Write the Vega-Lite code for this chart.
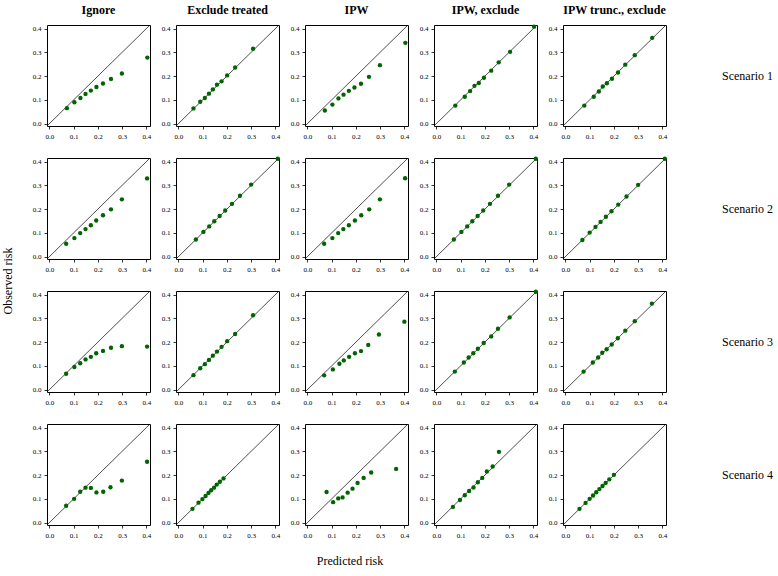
{
"$schema": "https://vega.github.io/schema/vega-lite/v6.json",
"padding": {"left": 2, "top": 4, "right": 2, "bottom": 2},
"background": "white",
"datasets": {"pts": [
{"method":"Ignore","scenario":"Scenario 1","pred":0.072,"obs":0.065},
{"method":"Ignore","scenario":"Scenario 1","pred":0.103,"obs":0.090},
{"method":"Ignore","scenario":"Scenario 1","pred":0.128,"obs":0.108},
{"method":"Ignore","scenario":"Scenario 1","pred":0.149,"obs":0.125},
{"method":"Ignore","scenario":"Scenario 1","pred":0.171,"obs":0.139},
{"method":"Ignore","scenario":"Scenario 1","pred":0.194,"obs":0.154},
{"method":"Ignore","scenario":"Scenario 1","pred":0.221,"obs":0.169},
{"method":"Ignore","scenario":"Scenario 1","pred":0.254,"obs":0.188},
{"method":"Ignore","scenario":"Scenario 1","pred":0.299,"obs":0.211},
{"method":"Ignore","scenario":"Scenario 1","pred":0.404,"obs":0.278},
{"method":"Ignore","scenario":"Scenario 2","pred":0.069,"obs":0.054},
{"method":"Ignore","scenario":"Scenario 2","pred":0.103,"obs":0.078},
{"method":"Ignore","scenario":"Scenario 2","pred":0.127,"obs":0.099},
{"method":"Ignore","scenario":"Scenario 2","pred":0.149,"obs":0.116},
{"method":"Ignore","scenario":"Scenario 2","pred":0.171,"obs":0.132},
{"method":"Ignore","scenario":"Scenario 2","pred":0.193,"obs":0.152},
{"method":"Ignore","scenario":"Scenario 2","pred":0.221,"obs":0.174},
{"method":"Ignore","scenario":"Scenario 2","pred":0.254,"obs":0.199},
{"method":"Ignore","scenario":"Scenario 2","pred":0.299,"obs":0.241},
{"method":"Ignore","scenario":"Scenario 2","pred":0.403,"obs":0.329},
{"method":"Ignore","scenario":"Scenario 3","pred":0.069,"obs":0.067},
{"method":"Ignore","scenario":"Scenario 3","pred":0.103,"obs":0.095},
{"method":"Ignore","scenario":"Scenario 3","pred":0.127,"obs":0.111},
{"method":"Ignore","scenario":"Scenario 3","pred":0.149,"obs":0.127},
{"method":"Ignore","scenario":"Scenario 3","pred":0.171,"obs":0.138},
{"method":"Ignore","scenario":"Scenario 3","pred":0.193,"obs":0.153},
{"method":"Ignore","scenario":"Scenario 3","pred":0.221,"obs":0.163},
{"method":"Ignore","scenario":"Scenario 3","pred":0.254,"obs":0.176},
{"method":"Ignore","scenario":"Scenario 3","pred":0.299,"obs":0.183},
{"method":"Ignore","scenario":"Scenario 3","pred":0.403,"obs":0.181},
{"method":"Ignore","scenario":"Scenario 4","pred":0.069,"obs":0.071},
{"method":"Ignore","scenario":"Scenario 4","pred":0.102,"obs":0.100},
{"method":"Ignore","scenario":"Scenario 4","pred":0.127,"obs":0.130},
{"method":"Ignore","scenario":"Scenario 4","pred":0.149,"obs":0.147},
{"method":"Ignore","scenario":"Scenario 4","pred":0.171,"obs":0.146},
{"method":"Ignore","scenario":"Scenario 4","pred":0.194,"obs":0.127},
{"method":"Ignore","scenario":"Scenario 4","pred":0.222,"obs":0.130},
{"method":"Ignore","scenario":"Scenario 4","pred":0.252,"obs":0.149},
{"method":"Ignore","scenario":"Scenario 4","pred":0.299,"obs":0.177},
{"method":"Ignore","scenario":"Scenario 4","pred":0.403,"obs":0.256},
{"method":"Exclude treated","scenario":"Scenario 1","pred":0.062,"obs":0.064},
{"method":"Exclude treated","scenario":"Scenario 1","pred":0.090,"obs":0.092},
{"method":"Exclude treated","scenario":"Scenario 1","pred":0.109,"obs":0.108},
{"method":"Exclude treated","scenario":"Scenario 1","pred":0.126,"obs":0.126},
{"method":"Exclude treated","scenario":"Scenario 1","pred":0.142,"obs":0.144},
{"method":"Exclude treated","scenario":"Scenario 1","pred":0.159,"obs":0.164},
{"method":"Exclude treated","scenario":"Scenario 1","pred":0.178,"obs":0.178},
{"method":"Exclude treated","scenario":"Scenario 1","pred":0.201,"obs":0.203},
{"method":"Exclude treated","scenario":"Scenario 1","pred":0.234,"obs":0.236},
{"method":"Exclude treated","scenario":"Scenario 1","pred":0.308,"obs":0.315},
{"method":"Exclude treated","scenario":"Scenario 2","pred":0.072,"obs":0.072},
{"method":"Exclude treated","scenario":"Scenario 2","pred":0.103,"obs":0.104},
{"method":"Exclude treated","scenario":"Scenario 2","pred":0.127,"obs":0.127},
{"method":"Exclude treated","scenario":"Scenario 2","pred":0.148,"obs":0.149},
{"method":"Exclude treated","scenario":"Scenario 2","pred":0.170,"obs":0.171},
{"method":"Exclude treated","scenario":"Scenario 2","pred":0.193,"obs":0.194},
{"method":"Exclude treated","scenario":"Scenario 2","pred":0.221,"obs":0.222},
{"method":"Exclude treated","scenario":"Scenario 2","pred":0.254,"obs":0.256},
{"method":"Exclude treated","scenario":"Scenario 2","pred":0.300,"obs":0.303},
{"method":"Exclude treated","scenario":"Scenario 2","pred":0.410,"obs":0.412},
{"method":"Exclude treated","scenario":"Scenario 3","pred":0.062,"obs":0.061},
{"method":"Exclude treated","scenario":"Scenario 3","pred":0.090,"obs":0.090},
{"method":"Exclude treated","scenario":"Scenario 3","pred":0.109,"obs":0.107},
{"method":"Exclude treated","scenario":"Scenario 3","pred":0.126,"obs":0.125},
{"method":"Exclude treated","scenario":"Scenario 3","pred":0.142,"obs":0.143},
{"method":"Exclude treated","scenario":"Scenario 3","pred":0.159,"obs":0.160},
{"method":"Exclude treated","scenario":"Scenario 3","pred":0.178,"obs":0.180},
{"method":"Exclude treated","scenario":"Scenario 3","pred":0.201,"obs":0.204},
{"method":"Exclude treated","scenario":"Scenario 3","pred":0.234,"obs":0.234},
{"method":"Exclude treated","scenario":"Scenario 3","pred":0.308,"obs":0.313},
{"method":"Exclude treated","scenario":"Scenario 4","pred":0.058,"obs":0.058},
{"method":"Exclude treated","scenario":"Scenario 4","pred":0.083,"obs":0.084},
{"method":"Exclude treated","scenario":"Scenario 4","pred":0.099,"obs":0.099},
{"method":"Exclude treated","scenario":"Scenario 4","pred":0.112,"obs":0.112},
{"method":"Exclude treated","scenario":"Scenario 4","pred":0.124,"obs":0.125},
{"method":"Exclude treated","scenario":"Scenario 4","pred":0.135,"obs":0.136},
{"method":"Exclude treated","scenario":"Scenario 4","pred":0.147,"obs":0.147},
{"method":"Exclude treated","scenario":"Scenario 4","pred":0.158,"obs":0.160},
{"method":"Exclude treated","scenario":"Scenario 4","pred":0.171,"obs":0.172},
{"method":"Exclude treated","scenario":"Scenario 4","pred":0.186,"obs":0.186},
{"method":"IPW","scenario":"Scenario 1","pred":0.072,"obs":0.055},
{"method":"IPW","scenario":"Scenario 1","pred":0.103,"obs":0.080},
{"method":"IPW","scenario":"Scenario 1","pred":0.128,"obs":0.106},
{"method":"IPW","scenario":"Scenario 1","pred":0.149,"obs":0.122},
{"method":"IPW","scenario":"Scenario 1","pred":0.171,"obs":0.138},
{"method":"IPW","scenario":"Scenario 1","pred":0.194,"obs":0.152},
{"method":"IPW","scenario":"Scenario 1","pred":0.221,"obs":0.168},
{"method":"IPW","scenario":"Scenario 1","pred":0.254,"obs":0.197},
{"method":"IPW","scenario":"Scenario 1","pred":0.299,"obs":0.246},
{"method":"IPW","scenario":"Scenario 1","pred":0.404,"obs":0.340},
{"method":"IPW","scenario":"Scenario 2","pred":0.069,"obs":0.054},
{"method":"IPW","scenario":"Scenario 2","pred":0.103,"obs":0.078},
{"method":"IPW","scenario":"Scenario 2","pred":0.127,"obs":0.099},
{"method":"IPW","scenario":"Scenario 2","pred":0.148,"obs":0.116},
{"method":"IPW","scenario":"Scenario 2","pred":0.171,"obs":0.132},
{"method":"IPW","scenario":"Scenario 2","pred":0.196,"obs":0.152},
{"method":"IPW","scenario":"Scenario 2","pred":0.222,"obs":0.174},
{"method":"IPW","scenario":"Scenario 2","pred":0.255,"obs":0.199},
{"method":"IPW","scenario":"Scenario 2","pred":0.299,"obs":0.241},
{"method":"IPW","scenario":"Scenario 2","pred":0.403,"obs":0.330},
{"method":"IPW","scenario":"Scenario 3","pred":0.069,"obs":0.060},
{"method":"IPW","scenario":"Scenario 3","pred":0.105,"obs":0.085},
{"method":"IPW","scenario":"Scenario 3","pred":0.132,"obs":0.109},
{"method":"IPW","scenario":"Scenario 3","pred":0.150,"obs":0.123},
{"method":"IPW","scenario":"Scenario 3","pred":0.172,"obs":0.138},
{"method":"IPW","scenario":"Scenario 3","pred":0.196,"obs":0.153},
{"method":"IPW","scenario":"Scenario 3","pred":0.221,"obs":0.162},
{"method":"IPW","scenario":"Scenario 3","pred":0.251,"obs":0.188},
{"method":"IPW","scenario":"Scenario 3","pred":0.295,"obs":0.232},
{"method":"IPW","scenario":"Scenario 3","pred":0.400,"obs":0.286},
{"method":"IPW","scenario":"Scenario 4","pred":0.079,"obs":0.129},
{"method":"IPW","scenario":"Scenario 4","pred":0.106,"obs":0.086},
{"method":"IPW","scenario":"Scenario 4","pred":0.127,"obs":0.102},
{"method":"IPW","scenario":"Scenario 4","pred":0.145,"obs":0.106},
{"method":"IPW","scenario":"Scenario 4","pred":0.166,"obs":0.126},
{"method":"IPW","scenario":"Scenario 4","pred":0.186,"obs":0.143},
{"method":"IPW","scenario":"Scenario 4","pred":0.207,"obs":0.167},
{"method":"IPW","scenario":"Scenario 4","pred":0.232,"obs":0.188},
{"method":"IPW","scenario":"Scenario 4","pred":0.263,"obs":0.211},
{"method":"IPW","scenario":"Scenario 4","pred":0.366,"obs":0.226},
{"method":"IPW, exclude","scenario":"Scenario 1","pred":0.078,"obs":0.076},
{"method":"IPW, exclude","scenario":"Scenario 1","pred":0.117,"obs":0.113},
{"method":"IPW, exclude","scenario":"Scenario 1","pred":0.139,"obs":0.137},
{"method":"IPW, exclude","scenario":"Scenario 1","pred":0.157,"obs":0.159},
{"method":"IPW, exclude","scenario":"Scenario 1","pred":0.175,"obs":0.171},
{"method":"IPW, exclude","scenario":"Scenario 1","pred":0.196,"obs":0.193},
{"method":"IPW, exclude","scenario":"Scenario 1","pred":0.226,"obs":0.223},
{"method":"IPW, exclude","scenario":"Scenario 1","pred":0.257,"obs":0.258},
{"method":"IPW, exclude","scenario":"Scenario 1","pred":0.304,"obs":0.302},
{"method":"IPW, exclude","scenario":"Scenario 1","pred":0.403,"obs":0.408},
{"method":"IPW, exclude","scenario":"Scenario 2","pred":0.072,"obs":0.072},
{"method":"IPW, exclude","scenario":"Scenario 2","pred":0.103,"obs":0.104},
{"method":"IPW, exclude","scenario":"Scenario 2","pred":0.127,"obs":0.127},
{"method":"IPW, exclude","scenario":"Scenario 2","pred":0.148,"obs":0.149},
{"method":"IPW, exclude","scenario":"Scenario 2","pred":0.170,"obs":0.171},
{"method":"IPW, exclude","scenario":"Scenario 2","pred":0.193,"obs":0.194},
{"method":"IPW, exclude","scenario":"Scenario 2","pred":0.221,"obs":0.222},
{"method":"IPW, exclude","scenario":"Scenario 2","pred":0.254,"obs":0.256},
{"method":"IPW, exclude","scenario":"Scenario 2","pred":0.300,"obs":0.303},
{"method":"IPW, exclude","scenario":"Scenario 2","pred":0.410,"obs":0.412},
{"method":"IPW, exclude","scenario":"Scenario 3","pred":0.076,"obs":0.076},
{"method":"IPW, exclude","scenario":"Scenario 3","pred":0.113,"obs":0.114},
{"method":"IPW, exclude","scenario":"Scenario 3","pred":0.133,"obs":0.135},
{"method":"IPW, exclude","scenario":"Scenario 3","pred":0.152,"obs":0.153},
{"method":"IPW, exclude","scenario":"Scenario 3","pred":0.171,"obs":0.172},
{"method":"IPW, exclude","scenario":"Scenario 3","pred":0.195,"obs":0.196},
{"method":"IPW, exclude","scenario":"Scenario 3","pred":0.226,"obs":0.224},
{"method":"IPW, exclude","scenario":"Scenario 3","pred":0.254,"obs":0.256},
{"method":"IPW, exclude","scenario":"Scenario 3","pred":0.302,"obs":0.304},
{"method":"IPW, exclude","scenario":"Scenario 3","pred":0.410,"obs":0.412},
{"method":"IPW, exclude","scenario":"Scenario 4","pred":0.068,"obs":0.066},
{"method":"IPW, exclude","scenario":"Scenario 4","pred":0.097,"obs":0.095},
{"method":"IPW, exclude","scenario":"Scenario 4","pred":0.117,"obs":0.115},
{"method":"IPW, exclude","scenario":"Scenario 4","pred":0.135,"obs":0.133},
{"method":"IPW, exclude","scenario":"Scenario 4","pred":0.153,"obs":0.148},
{"method":"IPW, exclude","scenario":"Scenario 4","pred":0.171,"obs":0.170},
{"method":"IPW, exclude","scenario":"Scenario 4","pred":0.189,"obs":0.188},
{"method":"IPW, exclude","scenario":"Scenario 4","pred":0.208,"obs":0.215},
{"method":"IPW, exclude","scenario":"Scenario 4","pred":0.232,"obs":0.236},
{"method":"IPW, exclude","scenario":"Scenario 4","pred":0.258,"obs":0.298},
{"method":"IPW trunc., exclude","scenario":"Scenario 1","pred":0.078,"obs":0.076},
{"method":"IPW trunc., exclude","scenario":"Scenario 1","pred":0.117,"obs":0.113},
{"method":"IPW trunc., exclude","scenario":"Scenario 1","pred":0.138,"obs":0.135},
{"method":"IPW trunc., exclude","scenario":"Scenario 1","pred":0.154,"obs":0.156},
{"method":"IPW trunc., exclude","scenario":"Scenario 1","pred":0.171,"obs":0.170},
{"method":"IPW trunc., exclude","scenario":"Scenario 1","pred":0.192,"obs":0.189},
{"method":"IPW trunc., exclude","scenario":"Scenario 1","pred":0.217,"obs":0.215},
{"method":"IPW trunc., exclude","scenario":"Scenario 1","pred":0.247,"obs":0.248},
{"method":"IPW trunc., exclude","scenario":"Scenario 1","pred":0.286,"obs":0.288},
{"method":"IPW trunc., exclude","scenario":"Scenario 1","pred":0.358,"obs":0.361},
{"method":"IPW trunc., exclude","scenario":"Scenario 2","pred":0.070,"obs":0.070},
{"method":"IPW trunc., exclude","scenario":"Scenario 2","pred":0.100,"obs":0.101},
{"method":"IPW trunc., exclude","scenario":"Scenario 2","pred":0.124,"obs":0.125},
{"method":"IPW trunc., exclude","scenario":"Scenario 2","pred":0.145,"obs":0.146},
{"method":"IPW trunc., exclude","scenario":"Scenario 2","pred":0.167,"obs":0.168},
{"method":"IPW trunc., exclude","scenario":"Scenario 2","pred":0.190,"obs":0.191},
{"method":"IPW trunc., exclude","scenario":"Scenario 2","pred":0.218,"obs":0.219},
{"method":"IPW trunc., exclude","scenario":"Scenario 2","pred":0.252,"obs":0.253},
{"method":"IPW trunc., exclude","scenario":"Scenario 2","pred":0.300,"obs":0.302},
{"method":"IPW trunc., exclude","scenario":"Scenario 2","pred":0.410,"obs":0.412},
{"method":"IPW trunc., exclude","scenario":"Scenario 3","pred":0.075,"obs":0.076},
{"method":"IPW trunc., exclude","scenario":"Scenario 3","pred":0.113,"obs":0.114},
{"method":"IPW trunc., exclude","scenario":"Scenario 3","pred":0.135,"obs":0.135},
{"method":"IPW trunc., exclude","scenario":"Scenario 3","pred":0.152,"obs":0.155},
{"method":"IPW trunc., exclude","scenario":"Scenario 3","pred":0.170,"obs":0.170},
{"method":"IPW trunc., exclude","scenario":"Scenario 3","pred":0.191,"obs":0.190},
{"method":"IPW trunc., exclude","scenario":"Scenario 3","pred":0.216,"obs":0.216},
{"method":"IPW trunc., exclude","scenario":"Scenario 3","pred":0.247,"obs":0.248},
{"method":"IPW trunc., exclude","scenario":"Scenario 3","pred":0.286,"obs":0.288},
{"method":"IPW trunc., exclude","scenario":"Scenario 3","pred":0.357,"obs":0.362},
{"method":"IPW trunc., exclude","scenario":"Scenario 4","pred":0.058,"obs":0.058},
{"method":"IPW trunc., exclude","scenario":"Scenario 4","pred":0.083,"obs":0.083},
{"method":"IPW trunc., exclude","scenario":"Scenario 4","pred":0.100,"obs":0.100},
{"method":"IPW trunc., exclude","scenario":"Scenario 4","pred":0.114,"obs":0.114},
{"method":"IPW trunc., exclude","scenario":"Scenario 4","pred":0.127,"obs":0.128},
{"method":"IPW trunc., exclude","scenario":"Scenario 4","pred":0.140,"obs":0.141},
{"method":"IPW trunc., exclude","scenario":"Scenario 4","pred":0.153,"obs":0.154},
{"method":"IPW trunc., exclude","scenario":"Scenario 4","pred":0.166,"obs":0.167},
{"method":"IPW trunc., exclude","scenario":"Scenario 4","pred":0.181,"obs":0.182},
{"method":"IPW trunc., exclude","scenario":"Scenario 4","pred":0.200,"obs":0.201}
]},
"data": {"name": "pts"},
"facet": {
  "column": {"field": "method", "type": "nominal",
    "sort": ["Ignore", "Exclude treated", "IPW", "IPW, exclude", "IPW trunc., exclude"],
    "title": "Predicted risk",
    "header": {"labelOrient": "top", "titleOrient": "bottom", "labelFont": "Liberation Serif", "labelFontSize": 12, "labelFontWeight": "bold", "labelColor": "black", "labelPadding": 8,
      "titleFont": "Liberation Serif", "titleFontSize": 12, "titleFontWeight": "normal", "titleColor": "black", "titlePadding": 21}},
  "row": {"field": "scenario", "type": "nominal",
    "title": "Observed risk",
    "header": {"labelOrient": "right", "titleOrient": "left", "labelAngle": 0, "labelAlign": "left", "labelFont": "Liberation Serif", "labelFontSize": 12, "labelColor": "black", "labelPadding": 5,
      "titleFont": "Liberation Serif", "titleFontSize": 12, "titleFontWeight": "normal", "titleColor": "black", "titlePadding": 22}}
},
"spacing": {"row": 32, "column": 26},
"bounds": "flush",
"resolve": {"axis": {"x": "independent", "y": "independent"}},
"spec": {
  "width": 103,
  "height": 101,
  "layer": [
    {
      "transform": [{"aggregate": [{"op": "count", "as": "n"}], "groupby": ["method", "scenario"]}],
      "mark": {"type": "rule", "color": "black", "strokeWidth": 0.7, "clip": true},
      "encoding": {
        "x": {"datum": -0.01, "type": "quantitative", "scale": {"domain": [-0.01, 0.415], "nice": false, "zero": false}, "axis": {"title": null, "values": [0, 0.1, 0.2, 0.3, 0.4]}},
        "y": {"datum": -0.01, "type": "quantitative", "scale": {"domain": [-0.01, 0.415], "nice": false, "zero": false}, "axis": {"title": null, "values": [0, 0.1, 0.2, 0.3, 0.4]}},
        "x2": {"datum": 0.415},
        "y2": {"datum": 0.415}
      }
    },
    {
      "mark": {"type": "point", "filled": true, "shape": "circle", "size": 19, "color": "#006400", "opacity": 1},
      "encoding": {
        "x": {"field": "pred", "type": "quantitative", "axis": {"title": null, "values": [0, 0.1, 0.2, 0.3, 0.4]}},
        "y": {"field": "obs", "type": "quantitative", "axis": {"title": null, "values": [0, 0.1, 0.2, 0.3, 0.4]}}
      }
    }
  ]
},
"config": {
  "view": {"stroke": "black", "strokeWidth": 1},
  "axis": {"format": ".1f", "grid": false, "domain": false, "ticks": true, "tickSize": 3, "tickColor": "black", "tickWidth": 0.8,
    "labelFont": "Liberation Serif", "labelFontSize": 7, "labelColor": "black", "labelPadding": 3, "labelOverlap": false, "labelBound": false},
  "axisY": {"labelAngle": 0}
}
}
